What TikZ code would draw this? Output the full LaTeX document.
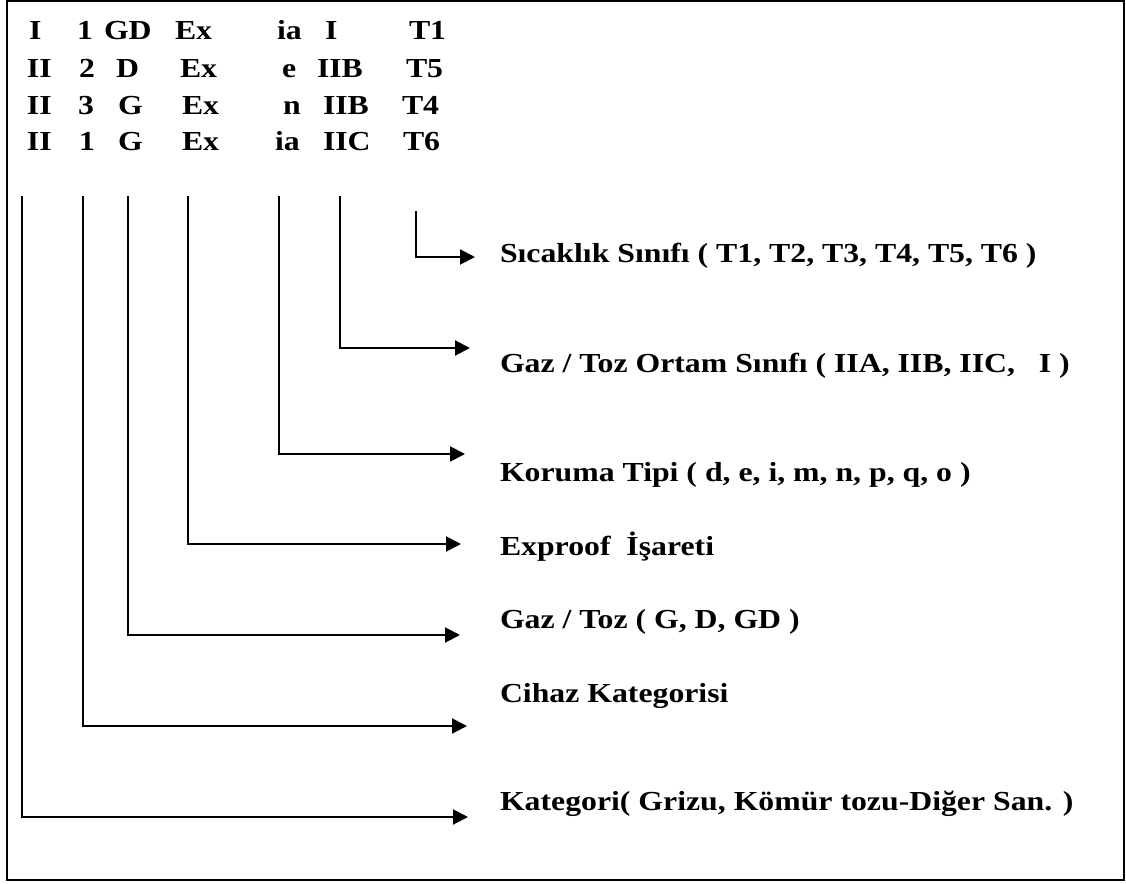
\documentclass[tikz,border=0pt]{standalone}
\usepackage{fontspec}
\setmainfont[FakeStretch=1.155]{Liberation Serif}
\usetikzlibrary{arrows.meta}
\begin{document}
\begin{tikzpicture}[x=1pt,y=-1pt,
  every node/.style={inner sep=0pt,outer sep=0pt},
  tok/.style={anchor=base west,font=\fontsize{27.5}{33}\selectfont\bfseries},
  lbl/.style={anchor=base west,font=\fontsize{27.5}{33}\selectfont\bfseries},
  conn/.style={line width=2pt,-{Triangle[length=15pt,width=15pt]}},
  frame/.style={line width=2pt}]
\useasboundingbox (0,0) rectangle (1126,883);
\draw[frame] (7,1.5) rectangle (1124,880);
% row 1
\node[tok] (r1a) at (29,40) {I};
\node[tok] (r1b) at (77,40) {1};
\node[tok] (r1c) at (104,40) {GD};
\node[tok] (r1d) at (175,40) {Ex};
\node[tok] (r1e) at (277,40) {ia};
\node[tok] (r1f) at (325,40) {I};
\node[tok] (r1g) at (409,40) {T1};
% row 2
\node[tok] (r2a) at (27,77.5) {II};
\node[tok] (r2b) at (79,77.5) {2};
\node[tok] (r2c) at (116,77.5) {D};
\node[tok] (r2d) at (180,77.5) {Ex};
\node[tok] (r2e) at (282,77.5) {e};
\node[tok] (r2f) at (317,77.5) {IIB};
\node[tok] (r2g) at (406,77.5) {T5};
% row 3
\node[tok] (r3a) at (27,114) {II};
\node[tok] (r3b) at (78,114) {3};
\node[tok] (r3c) at (118,114) {G};
\node[tok] (r3d) at (182,114) {Ex};
\node[tok] (r3e) at (283,114) {n};
\node[tok] (r3f) at (323,114) {IIB};
\node[tok] (r3g) at (402,114) {T4};
% row 4
\node[tok] (r4a) at (27,150) {II};
\node[tok] (r4b) at (79,150) {1};
\node[tok] (r4c) at (118,150) {G};
\node[tok] (r4d) at (182,150) {Ex};
\node[tok] (r4e) at (275,150) {ia};
\node[tok] (r4f) at (323,150) {IIC};
\node[tok] (r4g) at (403,150) {T6};
% labels
\node[lbl] (lT) at (500,262) {Sıcaklık Sınıfı ( T1, T2, T3, T4, T5, T6 )};
\node[lbl] (lO) at (500,372) {Gaz / Toz Ortam Sınıfı ( IIA, IIB, IIC,\ \ \ I )};
\node[lbl] (lK) at (500,481) {Koruma Tipi ( d, e, i, m, n, p, q, o )};
\node[lbl] (lE) at (500,555) {Exproof\ \ İşareti};
\node[lbl] (lG) at (500,628) {Gaz / Toz ( G, D, GD )};
\node[lbl] (lC) at (500,702) {Cihaz Kategorisi};
\node[lbl] (lA) at (500,810) {Kategori( Grizu, Kömür tozu-Diğer San. )};
% connector start points
\coordinate (sT) at (416,211);
\coordinate (sO) at (340,196);
\coordinate (sK) at (279,196);
\coordinate (sE) at (188,196);
\coordinate (sG) at (128,196);
\coordinate (sC) at (83,196);
\coordinate (sA) at (22,196);
% arrow ends
\coordinate (eT) at (475,257);
\coordinate (eO) at (470,348);
\coordinate (eK) at (465,454);
\coordinate (eE) at (461,544);
\coordinate (eG) at (460,635);
\coordinate (eC) at (467,726);
\coordinate (eA) at (468,817);
\draw[conn] (sT) |- (eT);
\draw[conn] (sO) |- (eO);
\draw[conn] (sK) |- (eK);
\draw[conn] (sE) |- (eE);
\draw[conn] (sG) |- (eG);
\draw[conn] (sC) |- (eC);
\draw[conn] (sA) |- (eA);
\end{tikzpicture}
\end{document}
